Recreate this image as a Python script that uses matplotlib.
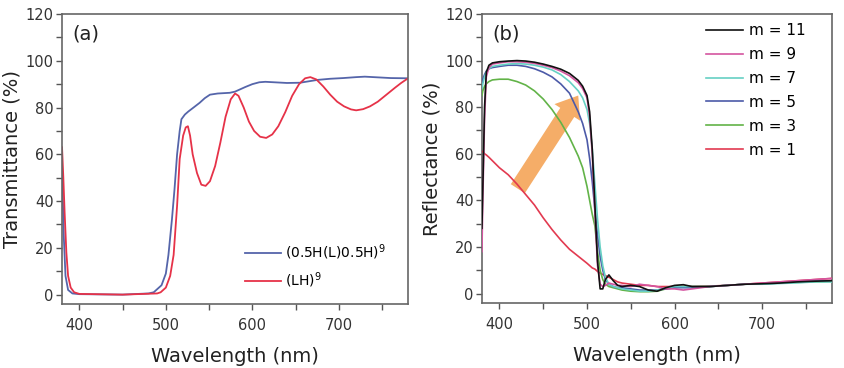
import numpy as np
import matplotlib.pyplot as plt
from matplotlib.ticker import MultipleLocator

# ---- panel (a): transmittance ----
wl_a_blue = [380, 382, 384, 387, 392, 400, 450, 480, 486, 495, 500, 503, 507, 510, 513, 516, 518,
             522, 526, 532, 539, 545, 551, 560, 574, 580, 586, 592, 600, 608, 615, 625, 640, 655,
             665, 675, 690, 705, 720, 730, 745, 760, 780]
t_blue = [55, 25, 8, 2, 0.5, 0.2, 0, 0.5, 1, 4, 9, 17, 32, 45, 60, 70, 75,
          77, 78.3, 80, 82, 84, 85.5, 86, 86.3, 86.8, 87.8, 88.8, 90, 90.8, 91, 90.8, 90.5, 90.6,
          91.2, 91.8, 92.3, 92.6, 93, 93.2, 92.9, 92.6, 92.5]

wl_a_red = [380, 381.5, 383, 385, 387, 390, 394, 400, 450, 490, 494, 500, 505, 509, 513, 516, 520,
            523, 525.5, 528, 531, 536, 541, 546, 551, 557, 563, 569, 575, 580, 584, 590, 596, 602,
            609, 616, 623, 630, 638, 646, 654, 661, 667, 674, 682, 690, 698, 706, 714, 720, 728,
            736, 745, 755, 765, 772, 780]
t_red = [63, 50, 35, 18, 8, 3, 1, 0.3, 0, 0.5, 1, 3, 8, 17, 38, 58, 68,
         71.5, 72, 68, 60, 52, 47, 46.5, 48.5, 55, 65, 76, 83.5, 86, 85, 80, 74, 70,
         67.5, 67, 68.5, 72, 78, 85, 90, 92.5, 93, 92, 89, 85.5, 82.5, 80.5, 79.2, 78.8, 79.3,
         80.5, 82.5, 85.5, 88.5, 90.5, 92.5]

# ---- panel (b): reflectance vs number of periods m ----
wl_b = [380, 381, 383, 385, 388, 392, 400, 410, 420, 430, 440, 450, 460, 470, 480, 490, 495, 500,
        503, 506, 509, 512, 515, 518, 521, 525, 530, 535, 540, 550, 560, 570, 580, 590, 600, 610,
        620, 640, 660, 680, 700, 720, 740, 760, 780]
r_m11 = [28, 45, 80, 95, 98, 99, 99.5, 99.8, 100, 99.8, 99.3, 98.5, 97.5, 96.3, 94.5, 91.5, 89, 85,
         78, 62, 38, 14, 2, 2, 6, 8, 5.5, 3.5, 3, 3.5, 3, 1.5, 1, 2.5, 3.5, 3.8,
         3, 3, 3.5, 4, 4.2, 4.5, 5, 5.3, 5.5]
r_m9 = [18, 40, 75, 93, 97, 98.5, 99, 99.5, 99.5, 99.3, 98.8, 98, 97, 95.5, 93.5, 90.5, 88, 84,
        76, 60, 35, 12, 4, 3, 3.5, 4.5, 4, 3.5, 3.5, 3, 4, 3.5, 3, 2, 2, 1.5,
        2, 3, 3.5, 4, 4.5, 5, 5.5, 6, 6.5]
r_m7 = [88, 90, 93, 95, 96.5, 97.5, 98, 98.5, 98.7, 98.5, 98, 97.2, 96, 94, 91, 87, 84, 79,
        73, 62, 47, 32, 20, 12, 7, 4, 3, 2.5, 2, 1.5, 1, 1, 1.5, 2.5, 3, 3,
        3, 3, 3.5, 4, 4, 4.3, 4.6, 5, 5]
r_m5 = [90, 92, 94, 95.5, 96.5, 97, 97.5, 98, 98, 97.5, 96.5, 95, 93, 90, 86, 78, 73, 66,
        58, 48, 36, 25, 16, 10, 6, 4, 3, 2.5, 2.5, 2, 1.5, 1.5, 1.5, 2, 2.5, 2.5,
        2.5, 3, 3.5, 4, 4.2, 4.5, 5, 5.3, 5.5]
r_m3 = [85, 87, 89, 90, 91, 91.7, 92, 92, 91, 89.5, 87, 83.5, 79, 73.5, 67, 59, 54, 46,
        40, 34, 29, 18, 10, 6, 4, 3, 2.5, 2, 1.5, 1, 0.8, 0.8, 1, 2, 2.5, 3,
        3, 3, 3.5, 4, 4.2, 4.5, 4.8, 5, 5.2]
r_m1 = [61, 61, 60, 59.5, 58.5, 57, 54, 51, 47, 42.5, 38, 32.5, 27.5, 23, 19, 16, 14.5, 13,
        12, 11, 10.5, 9.5, 8.8, 8.2, 7.7, 7, 6, 5, 4.5, 4, 3.5, 3.5, 3, 3, 3, 3,
        3, 3.2, 3.5, 4, 4.5, 5, 5.5, 6, 6.5]

b_series = [("m = 11", r_m11, "#111111"), ("m = 9", r_m9, "#d455a0"), ("m = 7", r_m7, "#66d0c4"),
            ("m = 5", r_m5, "#4c5aa8"), ("m = 3", r_m3, "#62b348"), ("m = 1", r_m1, "#e23a50")]

plt.rcParams['font.family'] = ['DejaVu Sans']

fig = plt.figure(figsize=(8.44, 3.68), dpi=100)
ax1 = fig.add_axes([0.0735, 0.174, 0.41, 0.788])
ax2 = fig.add_axes([0.571, 0.177, 0.415, 0.785])

def style(ax, ylabel, tag):
    ax.set_xlim(380, 780)
    ax.set_ylim(-4, 120)
    ax.xaxis.set_major_locator(MultipleLocator(100))
    ax.xaxis.set_minor_locator(MultipleLocator(50))
    ax.yaxis.set_major_locator(MultipleLocator(20))
    ax.yaxis.set_minor_locator(MultipleLocator(10))
    ax.tick_params(which='both', direction='out', length=4, width=1, color='#555',
                   labelsize=10.5, labelcolor='#333', top=False, right=False)
    ax.tick_params(axis='x', which='major', pad=6)
    ax.tick_params(axis='y', which='major', pad=2)
    for s in ax.spines.values():
        s.set_color('#666')
        s.set_linewidth(1.2)
    ax.set_xlabel('Wavelength (nm)', fontsize=14, color='#222', labelpad=10)
    ax.set_ylabel(ylabel, fontsize=14, color='#222', labelpad=3)
    ax.text(0.03, 0.93, tag, transform=ax.transAxes, fontsize=14, color='#222', va='center')

ax1.plot(wl_a_blue, t_blue, color='#5565aa', lw=1.3, label='(0.5H(L)0.5H)$^{9}$')
ax1.plot(wl_a_red, t_red, color='#e63248', lw=1.3, label='(LH)$^{9}$')
style(ax1, 'Transmittance (%)', '(a)')
ax1.legend(loc='lower left', bbox_to_anchor=(0.5, 0.015), frameon=False, fontsize=10,
           handlelength=2.6, handletextpad=0.3, labelspacing=0.6, borderpad=0.2)

for label, vals, col in reversed(b_series):
    ax2.plot(wl_b, vals, color=col, lw=1.2, label=label, zorder=3)
style(ax2, 'Reflectance (%)', '(b)')
h, l = ax2.get_legend_handles_labels()
ax2.legend(h[::-1], l[::-1], loc='upper left', bbox_to_anchor=(0.61, 1.005), frameon=False,
           fontsize=11, handlelength=2.4, handletextpad=0.4, labelspacing=0.58, borderpad=0.2)

# arrow sits under the curves
ax2.annotate('', xy=(490, 85), xytext=(421, 45),
             arrowprops=dict(arrowstyle='simple,head_width=2.2,head_length=1.45,tail_width=1.2',
                             color='#f5ad68', lw=0, shrinkA=0, shrinkB=0), zorder=1)

fig.savefig('out.png', dpi=100)
